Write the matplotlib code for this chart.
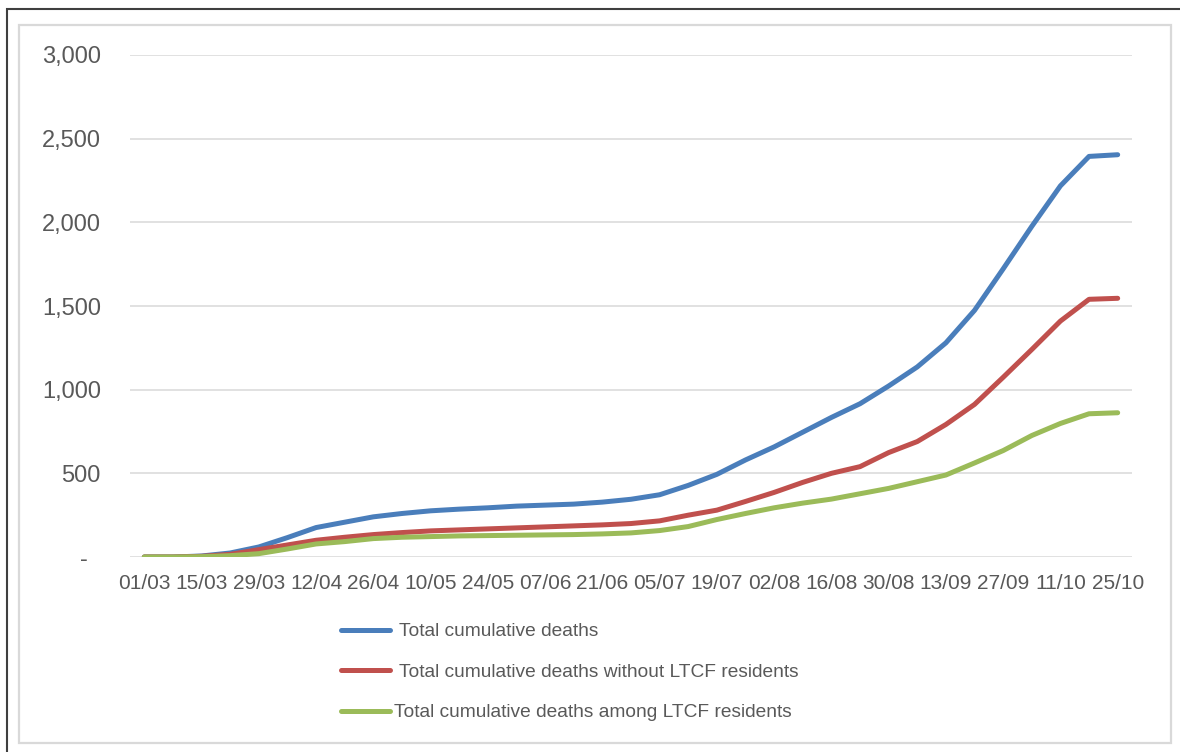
import numpy as np
import matplotlib
matplotlib.use("Agg")
import matplotlib.pyplot as plt
from matplotlib.patches import Rectangle
from matplotlib.ticker import FuncFormatter

plt.rcParams['font.family'] = ['Liberation Sans', 'DejaVu Sans']

# weekly dates (dd/mm)
weeks = ['01/03', '08/03', '15/03', '22/03', '29/03', '05/04', '12/04', '19/04',
         '26/04', '03/05', '10/05', '17/05', '24/05', '31/05', '07/06', '14/06',
         '21/06', '28/06', '05/07', '12/07', '19/07', '26/07', '02/08', '09/08',
         '16/08', '23/08', '30/08', '06/09', '13/09', '20/09', '27/09', '04/10',
         '11/10', '18/10', '25/10']

total_deaths = [0, 0, 6, 24, 60, 116, 176, 208, 240, 260, 276, 286, 294, 304, 310,
                316, 328, 345, 372, 428, 494, 580, 658, 746, 834, 916, 1022, 1136,
                1280, 1474, 1722, 1976, 2218, 2394, 2404]
without_ltcf = [0, 0, 4, 16, 44, 72, 100, 118, 134, 146, 156, 162, 168, 174, 180,
                186, 192, 200, 216, 250, 280, 332, 386, 446, 500, 540, 624, 690,
                792, 912, 1074, 1240, 1410, 1540, 1546]
among_ltcf = [0, 0, 2, 8, 20, 48, 78, 92, 110, 118, 122, 126, 128, 130, 132, 134,
              138, 144, 158, 182, 224, 260, 294, 322, 346, 378, 410, 450, 490, 562,
              636, 726, 798, 856, 862]

series_names = [' Total cumulative deaths',
                ' Total cumulative deaths without LTCF residents',
                'Total cumulative deaths among LTCF residents']
colors = ['#4A7EBB', '#C0504D', '#9BBB59']

text_col = '#595959'
grid_col = '#D9D9D9'

fig = plt.figure(figsize=(11.8, 7.52), dpi=100)

# chart frame
fig.patches.append(Rectangle((7 / 1180, -0.05), 1.2, 1 - 9 / 752 + 0.05,
                             transform=fig.transFigure, fill=False,
                             edgecolor='#3F3F3F', linewidth=1.5, zorder=0))
fig.patches.append(Rectangle((19 / 1180, 1 - 743 / 752), 1152 / 1180, 718 / 752,
                             transform=fig.transFigure, fill=False,
                             edgecolor=grid_col, linewidth=1.6, zorder=0))

ax = fig.add_axes([130 / 1180, 1 - 557 / 752, 1002 / 1180, 502 / 752])
x = np.arange(len(weeks))

for vals, name, c in zip([total_deaths, without_ltcf, among_ltcf], series_names, colors):
    ax.plot(x, vals, color=c, linewidth=3.6, solid_capstyle='round',
            solid_joinstyle='round', label=name, zorder=3)

ax.set_xlim(-0.5, len(weeks) - 0.5)
ax.set_ylim(0, 3000)
ax.set_yticks(np.arange(0, 3001, 500))


def fmt(v, pos):
    if v == 0:
        return '-  '
    return f'{int(v):,}'


ax.yaxis.set_major_formatter(FuncFormatter(fmt))
ax.set_xticks(x[::2])
ax.set_xticklabels(weeks[::2])

ax.grid(axis='y', color=grid_col, linewidth=1.1)
ax.set_axisbelow(True)
for s in ax.spines.values():
    s.set_visible(False)
ax.tick_params(axis='y', length=0, pad=21, labelsize=17, labelcolor=text_col)
ax.tick_params(axis='x', length=0, pad=12, labelsize=15, labelcolor=text_col)

leg = ax.legend(loc='upper left', bbox_to_anchor=(341 / 1180, 1 - 623 / 752),
                bbox_transform=fig.transFigure, frameon=False, fontsize=13.8,
                handlelength=2.55, handletextpad=0.2, labelspacing=1.2,
                borderpad=0, borderaxespad=0)
for t in leg.get_texts():
    t.set_color(text_col)

fig.savefig('out.png', dpi=100, facecolor='white')
